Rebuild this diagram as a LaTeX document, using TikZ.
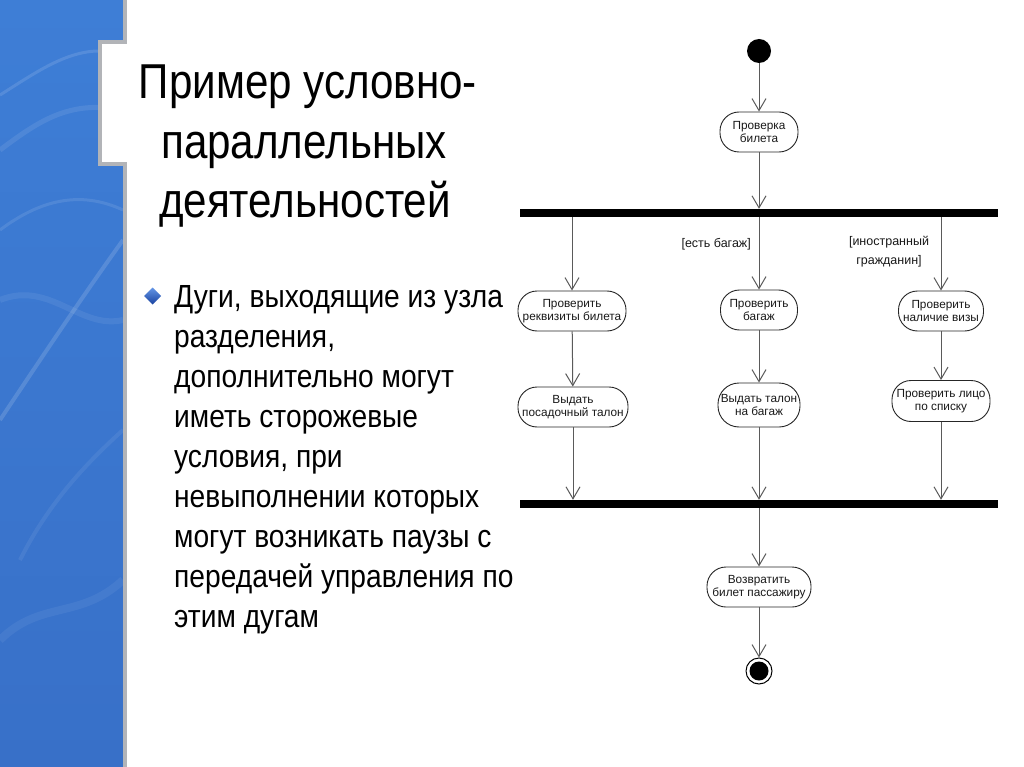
\documentclass[tikz,border=0pt]{standalone}
\usepackage{fontspec}
\setmainfont{Liberation Sans}
\newfontfamily\titlefont[FakeStretch=0.86]{Liberation Sans}
\newfontfamily\bulletfont[FakeStretch=0.88]{Liberation Sans}
\usetikzlibrary{arrows.meta,shapes.geometric}
\definecolor{bandtop}{RGB}{62,126,214}
\definecolor{bandbot}{RGB}{56,112,200}
\definecolor{bandline}{RGB}{178,180,184}
\definecolor{conn}{RGB}{90,90,90}
\definecolor{diamlight}{RGB}{100,150,230}
\definecolor{diamdark}{RGB}{25,65,160}
\tikzset{
  titletext/.style={font=\titlefont\fontsize{49}{59}\selectfont, anchor=base, inner sep=0pt},
  bullettext/.style={font=\bulletfont\fontsize{32}{40}\selectfont, anchor=base west, inner sep=0pt},
  actbox/.style={draw=black!85, line width=0.9pt, rounded corners=19pt, minimum height=40pt,
    align=center, inner sep=1pt, font=\fontsize{11.8}{13}\selectfont, text=black!90},
  bar/.style={fill=black, draw=none, minimum height=8pt, inner sep=0pt},
  guard/.style={font=\fontsize{12.5}{19}\selectfont, align=center, inner sep=0pt, text=black!90},
  flow/.style={draw=conn, line width=1pt, -{Straight Barb[length=12pt,width=14pt]}},
}
\begin{document}
\begin{tikzpicture}[x=1pt,y=-1pt]
\useasboundingbox (0,0) rectangle (1024,767);
\fill[white] (0,0) rectangle (1024,767);
% left blue band
\shade[top color=bandtop, bottom color=bandbot]
  (0,0) -- (123,0) -- (123,42) -- (100,42) -- (100,164) -- (123,164) -- (123,767) -- (0,767) -- cycle;
\begin{scope}
  \clip (0,0) -- (123,0) -- (123,42) -- (100,42) -- (100,164) -- (123,164) -- (123,767) -- (0,767) -- cycle;
  \draw[white, opacity=0.12, line width=3pt] (0,95) .. controls (40,70) and (80,40) .. (123,55);
  \draw[white, opacity=0.09, line width=5pt] (0,150) .. controls (40,120) and (70,100) .. (123,110);
  \draw[white, opacity=0.10, line width=3pt] (0,230) .. controls (40,200) and (80,190) .. (123,210);
  \draw[white, opacity=0.14, line width=4pt] (0,420) .. controls (40,360) and (80,300) .. (123,240);
  \draw[white, opacity=0.07, line width=6pt] (0,300) .. controls (50,280) and (80,330) .. (123,320);
  \draw[white, opacity=0.07, line width=4pt] (20,560) .. controls (50,500) and (90,460) .. (123,430);
  \draw[white, opacity=0.06, line width=8pt] (0,640) .. controls (40,600) and (80,620) .. (123,580);
\end{scope}
\draw[bandline, line width=4pt] (124.5,0) -- (124.5,42) -- (100,42) -- (100,164) -- (124.5,164) -- (124.5,767);
% title
\node[titletext] (t1) at (308,99) {Пример условно-};
\node[titletext] (t2) at (304,159) {параллельных};
\node[titletext] (t3) at (305,218) {деятельностей};
% bullet
\shade[top color=diamlight, bottom color=diamdark]
  (144,296) -- (152.5,287.5) -- (161,296) -- (152.5,304.5) -- cycle;
\node[bullettext] (b1) at (174,307) {Дуги, выходящие из узла};
\node[bullettext] (b2) at (174,347) {разделения,};
\node[bullettext] (b3) at (174,387) {дополнительно могут};
\node[bullettext] (b4) at (174,427) {иметь сторожевые};
\node[bullettext] (b5) at (174,467) {условия, при};
\node[bullettext] (b6) at (174,507) {невыполнении которых};
\node[bullettext] (b7) at (174,547) {могут возникать паузы с};
\node[bullettext] (b8) at (174,587) {передачей управления по};
\node[bullettext] (b9) at (174,627) {этим дугам};
% diagram
\node[circle, fill=black, minimum size=24pt, inner sep=0pt] (start) at (759,51) {};
\node[actbox, minimum width=78pt] (chk) at (759,132) {Проверка\\билета};
\node[bar, minimum width=478pt] (fork) at (759,213) {};
\node[actbox, minimum width=108pt] (r1a) at (572,311) {Проверить\\реквизиты билета};
\node[actbox, minimum width=77pt] (r1b) at (759,310) {Проверить\\багаж};
\node[actbox, minimum width=85pt] (r1c) at (941,311) {Проверить\\наличие визы};
\node[actbox, minimum width=110pt] (r2a) at (573,407) {Выдать\\посадочный талон};
\node[actbox, minimum width=82pt, minimum height=44pt, rounded corners=21pt] (r2b) at (759,405) {Выдать талон\\на багаж};
\node[actbox, minimum width=98pt, minimum height=41pt] (r2c) at (941,401) {Проверить лицо\\по списку};
\node[bar, minimum width=478pt] (join) at (759,504) {};
\node[actbox, minimum width=104pt] (ret) at (759,587) {Возвратить\\билет пассажиру};
\node[circle, draw=black, line width=1pt, minimum size=26pt, inner sep=0pt] (final) at (759,671) {};
\node[circle, fill=black, minimum size=19pt, inner sep=0pt] (finaldot) at (final.center) {};
\node[guard, anchor=east] (g1) at (751,244) {[есть багаж]};
\node[guard] (g2) at (889,252) {[иностранный\\гражданин]};
% connectors
\draw[flow] (start) -- (chk);
\draw[flow] (chk) -- (chk |- fork.north);
\draw[flow] (fork.south -| r1a) -- (r1a);
\draw[flow] (fork.south -| r1b) -- (r1b);
\draw[flow] (fork.south -| r1c) -- (r1c);
\draw[flow] (r1a) -- (r2a);
\draw[flow] (r1b) -- (r2b);
\draw[flow] (r1c) -- (r2c);
\draw[flow] (r2a) -- (r2a |- join.north);
\draw[flow] (r2b) -- (r2b |- join.north);
\draw[flow] (r2c) -- (r2c |- join.north);
\draw[flow] (join.south -| ret) -- (ret);
\draw[flow] (ret) -- (final);
\end{tikzpicture}
\end{document}
